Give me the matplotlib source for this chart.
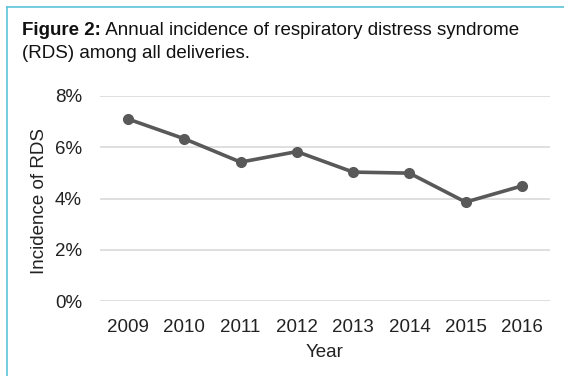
import matplotlib.pyplot as plt
from matplotlib.lines import Line2D
from matplotlib.transforms import ScaledTranslation

plt.rcParams["font.family"] = ["Liberation Sans", "DejaVu Sans"]

years = ["2009", "2010", "2011", "2012", "2013", "2014", "2015", "2016"]
rds_incidence = [7.10, 6.33, 5.42, 5.83, 5.03, 4.99, 3.86, 4.49]
y_ticks = [0, 2, 4, 6, 8]

fig = plt.figure(figsize=(5.64, 3.76), dpi=100)

# teal frame lines (top and left)
fig.add_artist(Line2D([7 / 564, 1], [1 - 7 / 376, 1 - 7 / 376],
                      color="#5bc4d8", lw=1.2, transform=fig.transFigure))
fig.add_artist(Line2D([7 / 564, 7 / 564], [0, 1 - 7 / 376],
                      color="#5bc4d8", lw=1.2, transform=fig.transFigure))

# caption: bold label followed by normal text
t1 = fig.text(22 / 564, 1 - 35 / 376, "Figure 2:", fontsize=13.5,
              fontweight="bold", va="baseline", color="#111111")
fig.canvas.draw()
shift = ScaledTranslation(t1.get_window_extent().width / fig.dpi, 0,
                          fig.dpi_scale_trans)
fig.text(22 / 564, 1 - 35 / 376,
         " Annual incidence of respiratory distress syndrome",
         fontsize=13.5, color="#111111", va="baseline",
         transform=fig.transFigure + shift)
fig.text(22 / 564, 1 - 58 / 376, "(RDS) among all deliveries.",
         fontsize=13.5, va="baseline", color="#111111")

ax = fig.add_axes([100 / 564, 75 / 376, 450 / 564, 205 / 376])
x = range(len(years))
ax.plot(x, rds_incidence, color="#595959", lw=2.6, marker="o",
        markersize=7, zorder=3)

ax.set_xlim(-0.5, len(years) - 0.5)
ax.set_ylim(0, 8)
ax.set_yticks(y_ticks)
ax.set_yticklabels([f"{t}%" for t in y_ticks])
ax.set_xticks(list(x))
ax.set_xticklabels(years)
ax.grid(axis="y", color="#d9d9d9", lw=1.2)
ax.set_axisbelow(True)
for s in ax.spines.values():
    s.set_visible(False)
ax.tick_params(length=0, labelsize=13.5, colors="#222222")
ax.tick_params(axis="x", pad=13)
ax.tick_params(axis="y", pad=13)
ax.set_xlabel("Year", fontsize=13.5, color="#222222", labelpad=6)
ax.set_ylabel("Incidence of RDS", fontsize=13.5, color="#222222")
ax.yaxis.set_label_coords(-52 / 450, 0.49)

fig.savefig("out.png", dpi=100)
